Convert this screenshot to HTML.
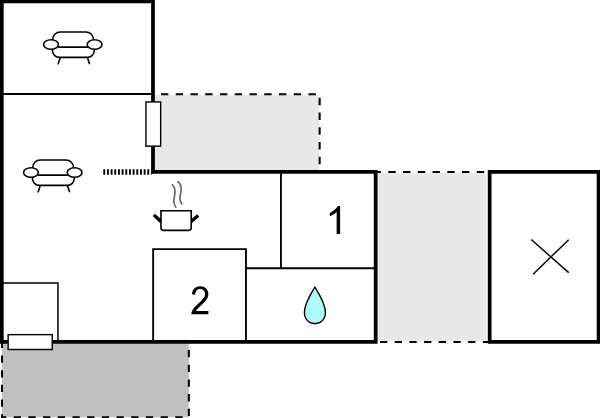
<!DOCTYPE html>
<html>
<head>
<meta charset="utf-8">
<title>Floor plan</title>
<style>
html,body{margin:0;padding:0;background:#fff;}
body{width:600px;height:418px;overflow:hidden;font-family:"Liberation Sans",sans-serif;}
svg{display:block;}
text{font-family:"Liberation Sans",sans-serif;fill:#000;}
</style>
</head>
<body>
<svg width="600" height="418" viewBox="0 0 600 418">

<rect width="600" height="418" fill="#fff"/>

<!-- gray areas -->
<rect x="153" y="94.8" width="166.2" height="77.2" fill="#e8e8e8"/>
<rect x="375.6" y="172.4" width="110.7" height="168.9" fill="#e8e8e8"/>
<rect x="1.9" y="341.7" width="186.9" height="75.5" fill="#c0c0c0"/>

<!-- dashed outlines -->
<g fill="none" stroke="#000" stroke-width="2.05">
  <path d="M161 94.25 H319.65 V172" stroke-dasharray="7.35 7.4"/>
  <path d="M373.55 172.0 H489" stroke-dasharray="7.35 7.4"/>
  <path d="M380 342.0 H489" stroke-dasharray="7.3 7.39"/>
  <path d="M2 340.75 V417.2 H188.85 V342" stroke-dasharray="7.3 7.39"/>
</g>

<!-- thin interior lines -->
<g fill="none" stroke="#000" stroke-width="1.85">
  <path d="M2 93.95 H153"/>
  <path d="M280.95 172 V268.2"/>
  <path d="M246 268.2 H375.6"/>
  <path d="M153.15 341.7 V249.1 H245.95 V341.7"/>
</g>
<g fill="none" stroke="#000" stroke-width="1.5">
  <path d="M2 283 H57.95 V341.7"/>
</g>

<!-- dotted opening -->
<path d="M103.3 172 H151.5" stroke="#000" stroke-width="5.5" stroke-dasharray="1.9 1.77" fill="none"/>

<!-- main walls -->
<g fill="none" stroke="#000" stroke-width="3.75" stroke-linejoin="miter" stroke-linecap="butt">
  <path d="M1.8 343.75 V1.4 H153 V171.85 H375.65 V341.85 H0"/>
  <path d="M489.65 171.75 H598.6 V341.85 H489.65 Z"/>
</g>

<polygon points="151.1,173.4 151.1,174.6 153.2,173.4" fill="#000"/>

<!-- windows -->
<rect x="145.95" y="101.95" width="14.7" height="44.2" fill="#fff" stroke="#000" stroke-width="1.4"/>
<rect x="8.15" y="334.65" width="44.1" height="14.85" fill="#fff" stroke="#000" stroke-width="1.4"/>

<!-- sofas -->
<g fill="none" stroke="#000" stroke-width="1.6" stroke-linecap="round" stroke-linejoin="round">
  <!-- back -->
  <path d="M32.6 167.9 V167.7 A7.7 7.7 0 0 1 40.3 160 H65.9 A7.7 7.7 0 0 1 73.6 167.7 V167.9"/>
  <!-- seat line -->
  <path d="M38.6 175.15 H67.3"/>
  <!-- bottom -->
  <path d="M32.4 177 V178.3 A7.1 7.1 0 0 0 39.5 185.4 H67.2 A7.1 7.1 0 0 0 74.3 178.3 V177"/>
  <!-- legs -->
  <path d="M40.1 185.9 L38.2 191.8 M67.6 185.9 L69.4 191.6"/>
  <ellipse cx="31" cy="172.5" rx="7.4" ry="4.7" fill="#fff"/>
  <ellipse cx="74.6" cy="172.5" rx="7.4" ry="4.7" fill="#fff"/>
</g>
<g transform="translate(20,-128)" fill="none" stroke="#000" stroke-width="1.6" stroke-linecap="round" stroke-linejoin="round">
  <!-- back -->
  <path d="M32.6 167.9 V167.7 A7.7 7.7 0 0 1 40.3 160 H65.9 A7.7 7.7 0 0 1 73.6 167.7 V167.9"/>
  <!-- seat line -->
  <path d="M38.6 175.15 H67.3"/>
  <!-- bottom -->
  <path d="M32.4 177 V178.3 A7.1 7.1 0 0 0 39.5 185.4 H67.2 A7.1 7.1 0 0 0 74.3 178.3 V177"/>
  <!-- legs -->
  <path d="M40.1 185.9 L38.2 191.8 M67.6 185.9 L69.4 191.6"/>
  <ellipse cx="31" cy="172.5" rx="7.4" ry="4.7" fill="#fff"/>
  <ellipse cx="74.6" cy="172.5" rx="7.4" ry="4.7" fill="#fff"/>
</g>

<!-- pot -->
<g fill="none" stroke="#000">
  <path d="M153.8 214.9 L161.2 221.7 M198.2 215.5 L190.9 221.8" stroke-width="3.3"/>
  <path d="M160.95 210.8 H191.2 V227.7 Q191.2 230.35 188.55 230.35 H163.6 Q160.95 230.35 160.95 227.7 Z" stroke-width="1.6" fill="#fff"/>
</g>
<g fill="none" stroke="#686868" stroke-width="1.7" stroke-linecap="round" transform="translate(0.2,0.2)">
  <path d="M172.1 184.6 C174.6 186.8 175 190 174.7 193 C174.4 196 173.4 199 173.7 202 C174 204.5 174.8 206 175.7 207"/>
  <path d="M177.7 181.6 C180.4 183.6 181.1 187 180.9 190 C180.7 193 179.5 196 179.8 199 C180 201.2 180.7 202.8 181.6 203.8"/>
</g>

<!-- drop -->
<path d="M314.9 287 C311 293.5 304.4 303.5 304.4 312.3 C304.4 319.3 309 323.7 314.9 323.7 C320.8 323.7 325.4 319.3 325.4 312.3 C325.4 303.5 318.8 293.5 314.9 287 Z" fill="#affbf9" stroke="#000" stroke-width="1.4" stroke-linejoin="round"/>

<!-- X -->
<g stroke="#000" stroke-width="1.45" fill="none">
  <path d="M531.2 239.5 L568.7 272.6 M568.7 239.7 L533.1 274.2"/>
</g>

<!-- numbers -->
<path transform="translate(340.1,234) scale(0.01913,-0.01913) translate(-763,0)" d="M763 0H583V1147Q518 1085 412.5 1023Q307 961 223 930V1104Q374 1175 487 1276Q600 1377 647 1469H763Z" fill="#000"/>
<path transform="translate(191.3,314.3) scale(0.01765,-0.01912) translate(-62,0)" d="M1031 170V0H62Q60 64 83 123Q120 222 201.5 318Q283 414 437 540Q676 736 760 850.5Q844 965 844 1067Q844 1174 767.5 1247.5Q691 1321 568 1321Q438 1321 360 1243Q282 1165 281 1027L96 1046Q115 1253 239 1361.5Q363 1470 572 1470Q783 1470 906 1353Q1029 1236 1029 1063Q1029 975 993 890Q957 805 873.5 711Q790 617 596 453Q434 317 388 268.5Q342 220 312 170Z" fill="#000"/>
</svg>
</body>
</html>
